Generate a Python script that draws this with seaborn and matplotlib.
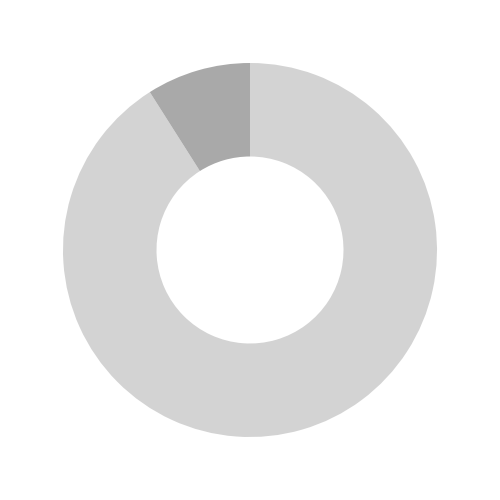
import matplotlib
matplotlib.use("Agg")
import matplotlib.pyplot as plt
import seaborn as sns

# slice data
labels = ["Rest", "Share"]
values = [91, 9]
colors = ["#d3d3d3", "#a9a9a9"]

sns.set_theme(style="white")

fig = plt.figure(figsize=(5, 5), dpi=100)
ax = fig.add_axes([0, 0, 1, 1])
ax.pie(values, labels=None, colors=colors, startangle=90, counterclock=False,
       radius=1.0, wedgeprops=dict(width=0.5, linewidth=0))
lim = 250 / 187
ax.set_xlim(-lim, lim)
ax.set_ylim(-lim, lim)
ax.set_aspect("equal")
ax.axis("off")

fig.savefig("out.png", dpi=100, facecolor="white")
